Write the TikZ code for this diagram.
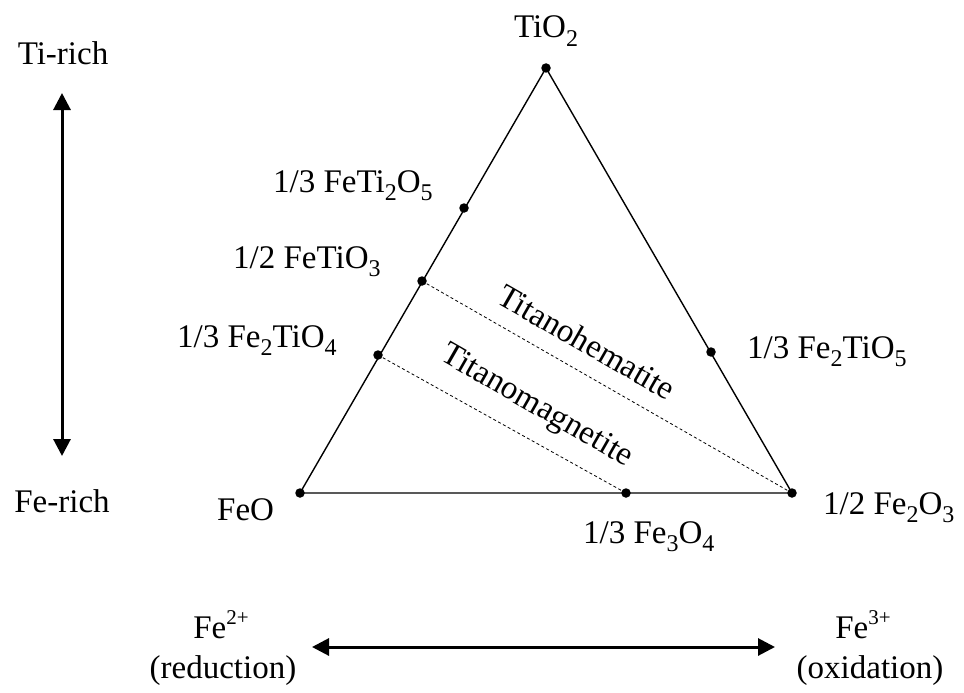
\documentclass[tikz,border=0pt]{standalone}
\usepackage{fontspec}
\setmainfont{Liberation Serif}
\usetikzlibrary{arrows.meta}
\newcommand{\chsub}[1]{\raisebox{-0.25em}{\fontsize{24}{24}\selectfont #1}}
\newcommand{\chsup}[1]{\raisebox{0.42em}{\fontsize{21}{21}\selectfont #1}}
\tikzset{
  lbl/.style={inner sep=0pt, font=\fontsize{33}{40}\selectfont},
  dotpt/.style={circle, fill=black, inner sep=0pt, minimum size=9.5pt},
  edge/.style={line width=1.4pt},
  dashline/.style={line width=0.8pt, dash pattern=on 3pt off 2.5pt},
  bigarrow/.style={line width=3pt, {Triangle[length=17pt,width=17pt]}-{Triangle[length=17pt,width=17pt]}}
}
\begin{document}
\begin{tikzpicture}[x=1pt,y=-1pt]
\useasboundingbox (0,0) rectangle (964,693);
% vertices and points
\coordinate (T) at (546,68);
\coordinate (F) at (300,493);
\coordinate (H) at (792,493);
\coordinate (pTi2) at (464,208);
\coordinate (pIl) at (422,281);
\coordinate (pUsp) at (378,355);
\coordinate (pPb) at (711,352);
\coordinate (pMag) at (626,493);
% triangle
\draw[edge] (F) -- (T) -- (H) -- cycle;
% dashed lines
\draw[dashline] (pIl) -- (H);
\draw[dashline] (pUsp) -- (pMag);
% dots
\foreach \p in {T,F,H,pTi2,pIl,pUsp,pPb,pMag} \node[dotpt] at (\p) {};
% labels
\node[lbl, anchor=base] (lTiO2) at (546,38) {TiO\chsub{2}};
\node[lbl, anchor=base west] (lTi2) at (273,192) {1/3 FeTi\chsub{2}O\chsub{5}};
\node[lbl, anchor=base west] (lIl) at (233,268) {1/2 FeTiO\chsub{3}};
\node[lbl, anchor=base west] (lUsp) at (177,347) {1/3 Fe\chsub{2}TiO\chsub{4}};
\node[lbl, anchor=base west] (lPb) at (747,358) {1/3 Fe\chsub{2}TiO\chsub{5}};
\node[lbl, anchor=base west] (lFeO) at (217,520) {FeO};
\node[lbl, anchor=base west] (lHem) at (823,514) {1/2 Fe\chsub{2}O\chsub{3}};
\node[lbl, anchor=base west] (lMag) at (583,543) {1/3 Fe\chsub{3}O\chsub{4}};
\node[lbl, rotate=-29.8] (lTH) at (587,342) {Titanohematite};
\node[lbl, rotate=-29.8] (lTM) at (536,407) {Titanomagnetite};
\node[lbl, anchor=base] (lTi) at (63,65) {Ti-rich};
\node[lbl, anchor=base] (lFe) at (62,512) {Fe-rich};
\node[lbl, anchor=base] (lFe2) at (221,638) {Fe\chsup{2+}};
\node[lbl, anchor=base] (lRed) at (223,678) {(reduction)};
\node[lbl, anchor=base] (lFe3) at (863,638) {Fe\chsup{3+}};
\node[lbl, anchor=base] (lOx) at (870,678) {(oxidation)};
% arrows
\coordinate (vTop) at (62,93);
\coordinate (vBot) at (62,456);
\coordinate (hL) at (312,647);
\coordinate (hR) at (775,647);
\draw[bigarrow] (vTop) -- (vBot);
\draw[bigarrow] (hL) -- (hR);
\end{tikzpicture}
\end{document}
